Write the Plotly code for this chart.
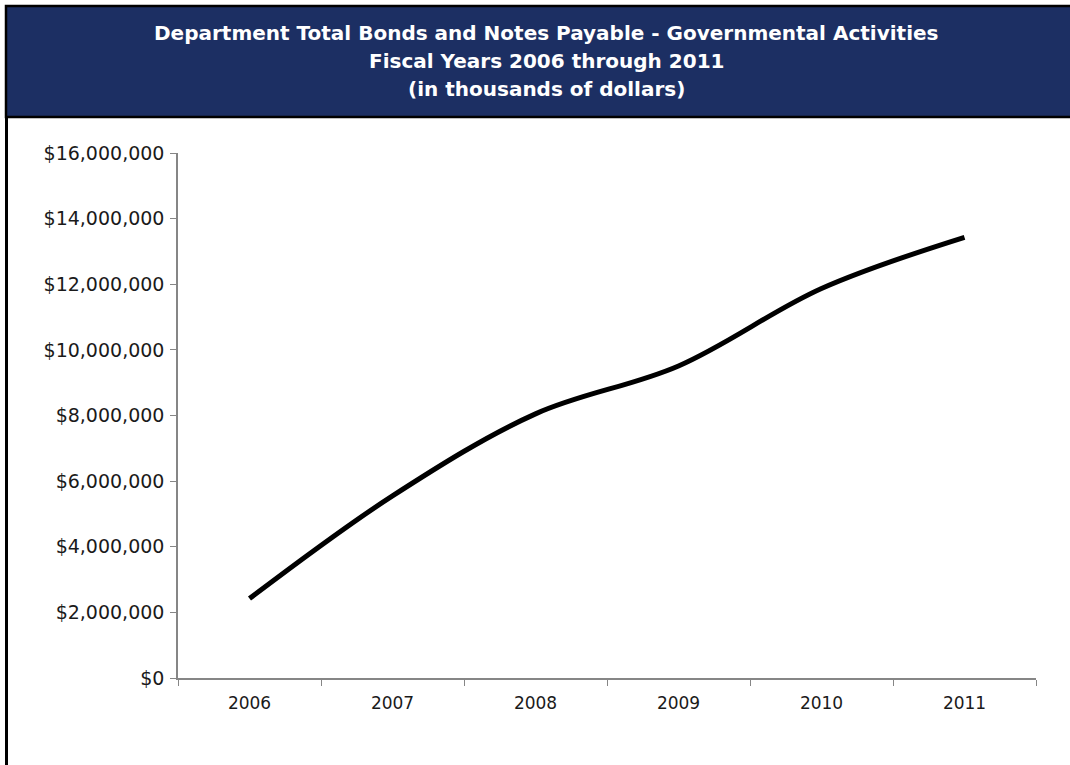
import plotly.graph_objects as go

years = ["2006", "2007", "2008", "2009", "2010", "2011"]
payable = [2420000, 5550000, 8050000, 9510000, 11870000, 13430000]
y_ticks = [0, 2000000, 4000000, 6000000, 8000000, 10000000, 12000000, 14000000, 16000000]
y_tick_labels = ["$0", "$2,000,000", "$4,000,000", "$6,000,000", "$8,000,000",
                 "$10,000,000", "$12,000,000", "$14,000,000", "$16,000,000"]
title_lines = ["Department Total Bonds and Notes Payable - Governmental Activities",
               "Fiscal Years 2006 through 2011",
               "(in thousands of dollars)"]

W, H = 1070, 765
L, R, T, B = 178, 34, 153, 87

fig = go.Figure()
fig.add_trace(go.Scatter(
    x=years, y=payable, mode="lines",
    line=dict(color="black", width=5, shape="spline", smoothing=1.0),
    hoverinfo="x+y", showlegend=False,
))

font_family = "DejaVu Sans, Verdana, sans-serif"

fig.update_layout(
    width=W, height=H,
    margin=dict(l=L, r=R, t=T, b=B, pad=0),
    paper_bgcolor="white", plot_bgcolor="white",
    font=dict(family=font_family, size=17, color="#1a1a1a"),
    xaxis=dict(
        type="category", tickson="boundaries", ticks="outside", ticklen=6,
        tickcolor="#868686", showline=True, linecolor="#868686", linewidth=1.5,
        showgrid=False, zeroline=False, range=[-0.5, 5.5], ticklabelstandoff=9,
        tickfont=dict(size=17, family=font_family, color="#1a1a1a"),
    ),
    yaxis=dict(
        range=[0, 16000000], tickvals=y_ticks, ticktext=y_tick_labels,
        ticks="outside", ticklen=6, tickcolor="#868686",
        showline=True, linecolor="#868686", linewidth=1.5,
        showgrid=False, zeroline=False, ticklabelstandoff=2,
        tickfont=dict(size=19, family=font_family, color="#1a1a1a"),
    ),
)

# Title banner (pixel -> paper coords)
def px(x):
    return (x - L) / (W - L - R)

def py(y):
    return (H - B - y) / (H - T - B)

fig.add_shape(type="rect", xref="paper", yref="paper",
              x0=px(6), x1=px(W + 10), y0=py(117), y1=py(6),
              fillcolor="#1C2F63", line=dict(color="black", width=2.5), layer="above")
fig.add_shape(type="line", xref="paper", yref="paper",
              x0=px(6.5), x1=px(6.5), y0=py(118), y1=py(H + 5),
              line=dict(color="black", width=3), layer="above")

for line_text, ypix in zip(title_lines, [33, 61, 89]):
    fig.add_annotation(
        xref="paper", yref="paper", x=px(546), y=py(ypix),
        text="<b>%s</b>" % line_text, showarrow=False,
        font=dict(family=font_family, size=20, color="white"),
        align="center", xanchor="center", yanchor="middle",
    )

fig.write_html("out.html", config={"displayModeBar": False},
               post_script="document.body.style.margin='0';document.body.style.overflow='hidden';")
